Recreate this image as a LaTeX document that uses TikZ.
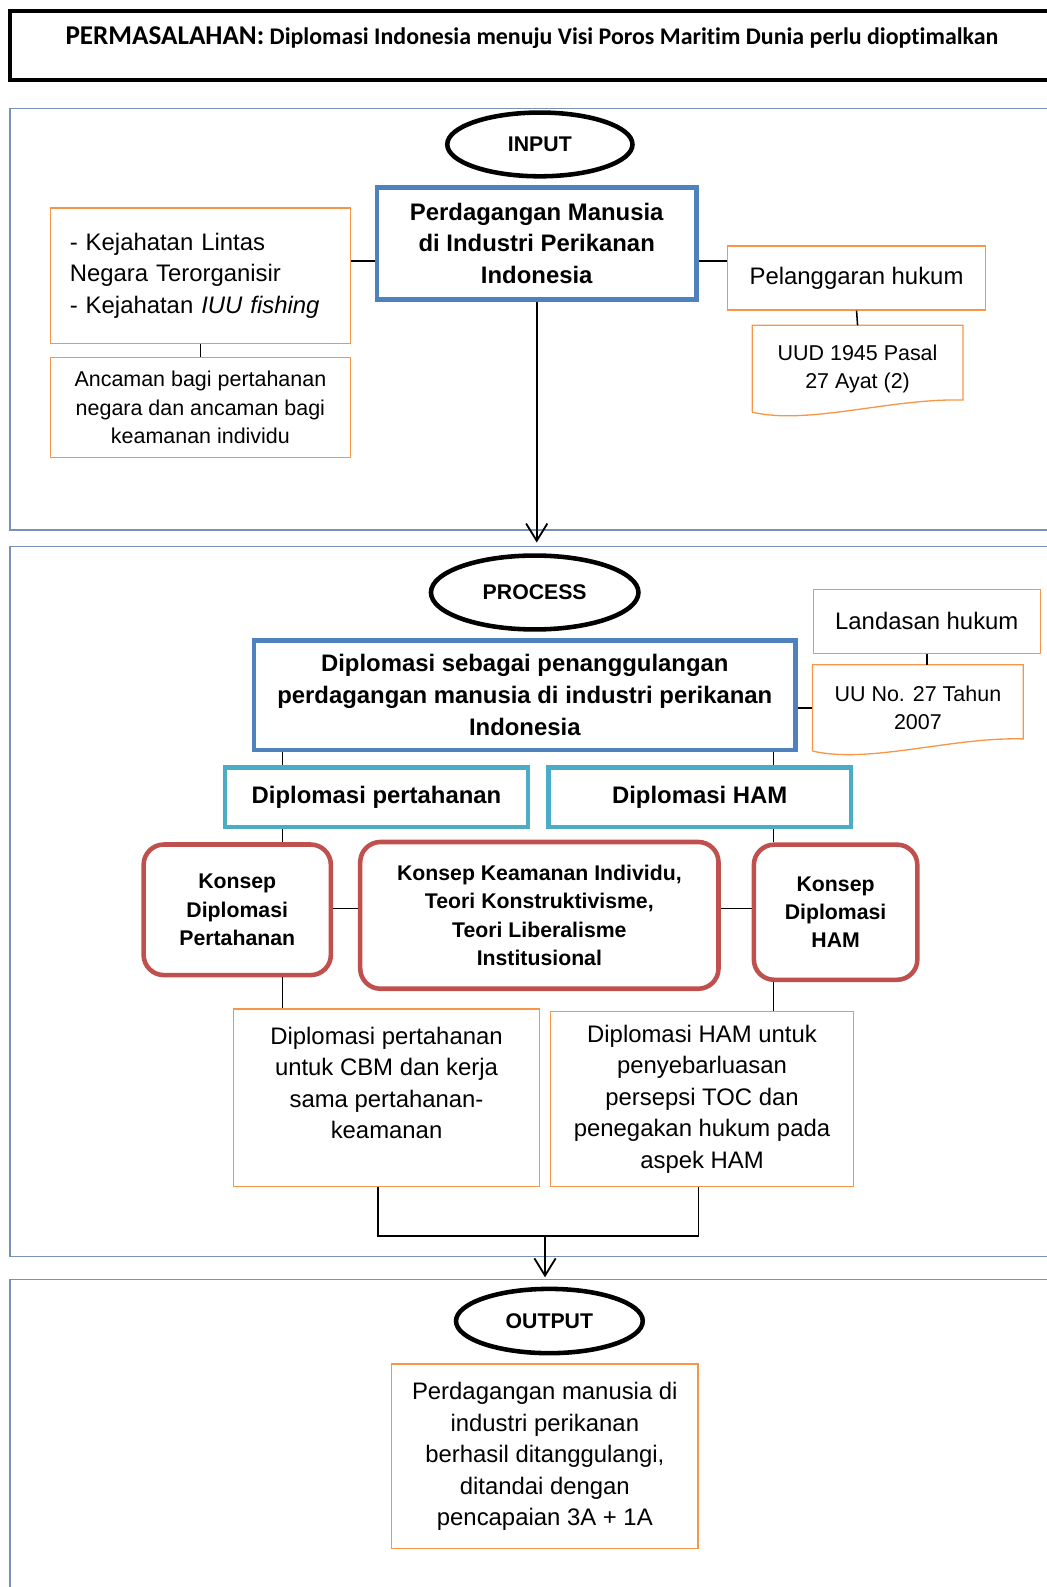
\documentclass[tikz,border=0pt]{standalone}
\usepackage{fontspec}
\setmainfont{Liberation Sans}
\newfontfamily\titlefont[Ligatures=NoCommon]{Carlito}
\usetikzlibrary{arrows.meta}
\usetikzlibrary{shapes.geometric}
\definecolor{panelc}{RGB}{120,145,180}
\definecolor{bluec}{RGB}{79,129,189}
\definecolor{tealc}{RGB}{75,172,198}
\definecolor{redc}{RGB}{192,80,77}
\definecolor{orangec}{RGB}{247,150,70}
\tikzset{
    panel/.style = {draw=panelc,line width=1.5pt},
    headbox/.style = {draw,line width=4.5pt,inner sep=0},
    oval/.style = {shape=ellipse,draw,line width=4.5pt,inner sep=0,font=\fontsize{21}{25}\selectfont\bfseries},
    mainbox/.style = {draw=bluec,line width=4.5pt,align=center,inner sep=0,font=\fontsize{23.6}{31.5}\selectfont\bfseries},
    subbox/.style = {draw=tealc,line width=4.5pt,align=center,inner sep=0,font=\fontsize{23.6}{31}\selectfont\bfseries},
    konsep/.style = {draw=redc,rounded corners=20pt,line width=4.5pt,align=center,inner sep=0,font=\fontsize{21}{28}\selectfont\bfseries},
    note/.style = {draw=orangec,line width=1.3pt,align=center,inner sep=0,font=\fontsize{23.6}{31}\selectfont},
    smallnote/.style = {note,font=\fontsize{21.2}{28}\selectfont},
    docnode/.style = {smallnote,draw=none},
    docedge/.style = {draw=orangec,line width=1.3pt},
    link/.style = {line width=1.5pt},
    flow/.style = {line width=1.8pt,-{Straight Barb[length=17pt,width=21pt]}}
}

\begin{document}
\begin{tikzpicture}[x=1pt,y=-1pt]
        \useasboundingbox (0,0) rectangle (1034,1568);
        \newcommand*\docline[1]{%
            \draw[docedge] (#1.south west) -- (#1.north west) -- (#1.north east)
                -- ([yshift=12pt]#1.south east) .. controls +(-71,-2) and +(56,13) .. (#1.south west);}
        % Problem
        \node[headbox,minimum width=1035pt,minimum height=68pt] (masalahbox) at (527.5,45) {};
        \node[font=\titlefont\bfseries] (masalah) at (525.5,37)
            {{\fontsize{26.8}{30}\selectfont PERMASALAHAN:}\fontsize{23.6}{30}\selectfont{} Diplomasi Indonesia menuju Visi Poros Maritim Dunia perlu dioptimalkan};
        % Panels
        \draw[panel] (10,107) rectangle (1045,523.4);
        \draw[panel] (10,540) rectangle (1045,1241.5);
        \draw[panel] (10,1264) rectangle (1045,1600);
        % Input
        \node[oval,minimum width=183pt,minimum height=63pt] (input) at (533.4,142.7) {INPUT};
        \node[mainbox,minimum width=316pt,minimum height=111pt] (perdagangan) at (530.3,240.5)
            {Perdagangan Manusia\\di Industri Perikanan\\Indonesia};
        \node[note,align=left,text width=258pt,minimum width=296pt,minimum height=134pt] (kejahatan) at (198,272.4)
            {- Kejahatan Lintas\\Negara Terorganisir\\- Kejahatan \textit{IUU fishing}};
        \node[smallnote,minimum width=296pt,minimum height=99pt] (ancaman) at (198,402.6)
            {Ancaman bagi pertahanan\\negara dan ancaman bagi\\keamanan individu};
        \node[note,minimum width=255pt,minimum height=63pt] (pelanggaran) at (846.3,274.7) {Pelanggaran hukum};
        \node[docnode,minimum width=207pt,minimum height=84.6pt] (uud) at (847.3,364.3) {UUD 1945 Pasal\\27 Ayat (2)};
        \docline{uud}
        \coordinate (inrow) at (0,258);
        \coordinate (intip) at (530.3,536);
        % Process
        \node[oval,minimum width=205pt,minimum height=73pt] (process) at (528.3,585.4) {PROCESS};
        \node[mainbox,minimum width=535pt,minimum height=108pt] (diplomasi) at (518.5,687)
            {Diplomasi sebagai penanggulangan\\perdagangan manusia di industri perikanan\\Indonesia};
        \node[note,minimum width=224pt,minimum height=63pt] (landasan) at (915.7,614) {Landasan hukum};
        \node[docnode,minimum width=207pt,minimum height=84pt] (uu) at (906.9,699.4) {UU No. 27 Tahun\\2007};
        \docline{uu}
        \node[subbox,minimum width=299pt,minimum height=58.5pt] (dpertahanan) at (372,787.8) {Diplomasi pertahanan};
        \node[subbox,minimum width=299pt,minimum height=58.5pt] (dham) at (691.3,787.8) {Diplomasi HAM};
        \node[konsep,minimum width=185pt,minimum height=129pt] (kdp) at (234.4,898.9)
            {Konsep\\Diplomasi\\Pertahanan};
        \node[konsep,minimum width=354pt,minimum height=145pt] (kteori) at (532.9,904.4)
            {Konsep Keamanan Individu,\\Teori Konstruktivisme,\\Teori Liberalisme\\Institusional};
        \node[konsep,minimum width=161.5pt,minimum height=133.5pt] (kdham) at (825.6,901.3)
            {Konsep\\Diplomasi\\HAM};
        \node[note,minimum width=302pt,minimum height=175.5pt] (cbmbox) at (381.9,1084.6) {};
        \node[note,draw=none,anchor=north] (cbm) at ([yshift=-18pt]cbmbox.north)
            {Diplomasi pertahanan\\untuk CBM dan kerja\\sama pertahanan-\\keamanan};
        \node[note,minimum width=300pt,minimum height=173pt] (tocbox) at (693.6,1086)
            {Diplomasi HAM untuk\\penyebarluasan\\persepsi TOC dan\\penegakan hukum pada\\aspek HAM};
        \coordinate (lx) at (279,0);
        \coordinate (rx) at (764,0);
        \coordinate (krow) at (0,897.7);
        \coordinate (busl) at (373.3,1221);
        \coordinate (busr) at (690,1221);
        \coordinate (join) at (538.5,1221);
        \coordinate (outtip) at (538.5,1262);
        % Output
        \node[oval,minimum width=184.5pt,minimum height=63.5pt] (output) at (542.8,1305.2) {OUTPUT};
        \node[note,minimum width=302.5pt,minimum height=182.4pt] (hasil) at (538.3,1439)
            {Perdagangan manusia di\\industri perikanan\\berhasil ditanggulangi,\\ditandai dengan\\pencapaian 3A + 1A};
        % Links
        \draw[link] (kejahatan.east |- inrow) -- (perdagangan.west |- inrow);
        \draw[link] (perdagangan.east |- inrow) -- (pelanggaran.west |- inrow);
        \foreach \src/\dest in {kejahatan/ancaman,pelanggaran/uud}
            \draw[link] (\src.south) -- (\dest.north);
        \draw[link] (landasan.south) -- (landasan.south |- uu.north);
        \draw[link] (diplomasi.east |- uu.west) -- (uu.west);
        \foreach \src/\dest in {diplomasi/dpertahanan,dpertahanan/kdp,kdp/cbmbox}
            \draw[link] (\src.south -| lx) -- (\dest.north -| lx);
        \foreach \src/\dest in {diplomasi/dham,dham/kdham,kdham/tocbox}
            \draw[link] (\src.south -| rx) -- (\dest.north -| rx);
        \draw[link] (kdp.east |- krow) -- (kteori.west |- krow);
        \draw[link] (kteori.east |- krow) -- (kdham.west |- krow);
        \draw[link] (cbmbox.south -| busl) -- (busl) -- (busr) -- (tocbox.south -| busr);
        % Flow
        \draw[flow] (perdagangan.south) -- (intip);
        \draw[flow] (join) -- (outtip);
\end{tikzpicture}
\end{document}
